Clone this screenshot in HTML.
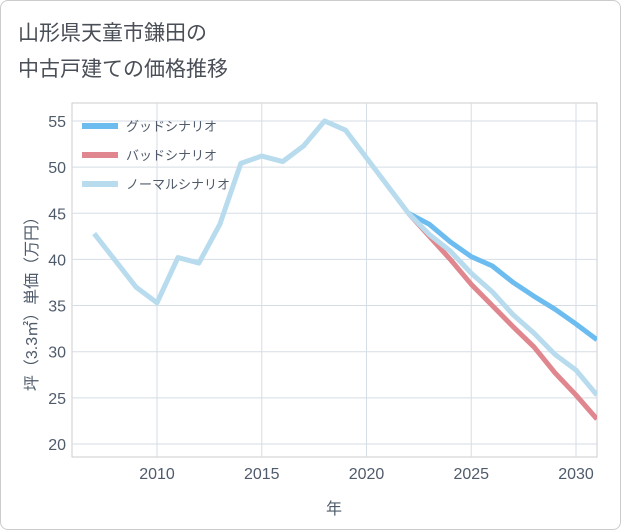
<!DOCTYPE html>
<html><head><meta charset="utf-8"><style>
body{margin:0;background:#fff;font-family:"Liberation Sans","Noto Sans CJK JP",sans-serif}
#card{position:absolute;left:0;top:0;width:619px;height:528px;border:1px solid #ccc;border-radius:8px;background:#fff}
</style></head><body>
<div id="card">
<svg width="621" height="530" style="position:absolute;left:-1px;top:-1px">
<text x="18" y="40" font-size="21" fill="#4a4f57">山形県天童市鎌田の</text>
<text x="18" y="76" font-size="21" fill="#4a4f57">中古戸建ての価格推移</text>
<g id="plot"></g>
</svg></div>
<script>
const years=[2007,2008,2009,2010,2011,2012,2013,2014,2015,2016,2017,2018,2019,2020,2021,2022,2023,2024,2025,2026,2027,2028,2029,2030,2031];
const normal=[42.8,39.9,37,35.3,40.2,39.6,43.8,50.4,51.2,50.6,52.3,55,54,51,48,45,42.7,40.9,38.5,36.5,34,32,29.7,28,25.3];
const goodYears=[2022,2023,2024,2025,2026,2027,2028,2029,2030,2031];
const good=[45,43.8,41.9,40.3,39.3,37.5,36,34.6,33,31.3];
const bad=[45,42.5,40,37.3,35,32.7,30.5,27.7,25.3,22.7];
const yTicks=[20,25,30,35,40,45,50,55];
const xTicks=[2010,2015,2020,2025,2030];
const L=72,R=597,T=103,B=457;
const xs=v=>157+(v-2010)*20.95;
const ys=v=>444-(v-20)*9.23;
const g=document.getElementById('plot');const NS='http://www.w3.org/2000/svg';
function el(t,a,txt){const e=document.createElementNS(NS,t);for(const k in a)e.setAttribute(k,a[k]);if(txt!==undefined)e.textContent=txt;g.appendChild(e);return e;}
let r=el('rect',{x:L,y:T,width:R-L,height:B-T,fill:'#fff',stroke:'#ccc'});

yTicks.forEach(v=>{let l=el('line',{x1:L,x2:R,y1:ys(v),y2:ys(v),stroke:'#d5dde5'});

let t=el('text',{x:L-6,y:ys(v)+6,'text-anchor':'end','font-size':16,fill:'#4f5b6b'},v);
});
xTicks.forEach(v=>{let l=el('line',{x1:xs(v),x2:xs(v),y1:T,y2:B,stroke:'#d5dde5'});

let t=el('text',{x:xs(v),y:B+22,'text-anchor':'middle','font-size':16,fill:'#4f5b6b'},v);
});
let xt=el('text',{x:334,y:514,'text-anchor':'middle','font-size':16,fill:'#4f5b6b'},'年');

let yt=el('text',{transform:'translate(37,300) rotate(-90)','text-anchor':'middle','font-size':16,fill:'#4f5b6b'},'坪（3.3㎡）単価（万円）');

const cp=el('clipPath',{id:'cp'});const cr=document.createElementNS(NS,'rect');
cr.setAttribute('x',L);cr.setAttribute('y',T);cr.setAttribute('width',R-L);cr.setAttribute('height',B-T);cp.appendChild(cr);
function line(xv,yv,c,name){let p=el('polyline',{points:xv.map((x,i)=>xs(x)+','+ys(yv[i])).join(' '),fill:'none',stroke:c,'stroke-width':5,'stroke-linejoin':'round','clip-path':'url(#cp)'});
}
line(goodYears,good,'#6cbcf0','good-scenario-line');
line(goodYears,bad,'#e0868e','bad-scenario-line');
line(years,normal,'#b8dcee','normal-scenario-line');
[['グッドシナリオ','#6cbcf0'],['バッドシナリオ','#e0868e'],['ノーマルシナリオ','#b8dcee']].forEach((d,i)=>{
let y=126+i*29;let l=el('line',{x1:82,x2:118,y1:y,y2:y,stroke:d[1],'stroke-width':6});

let t=el('text',{x:126,y:y+5,'font-size':13,fill:'#4f5b6b'},d[0]);
});
</script></body></html>
